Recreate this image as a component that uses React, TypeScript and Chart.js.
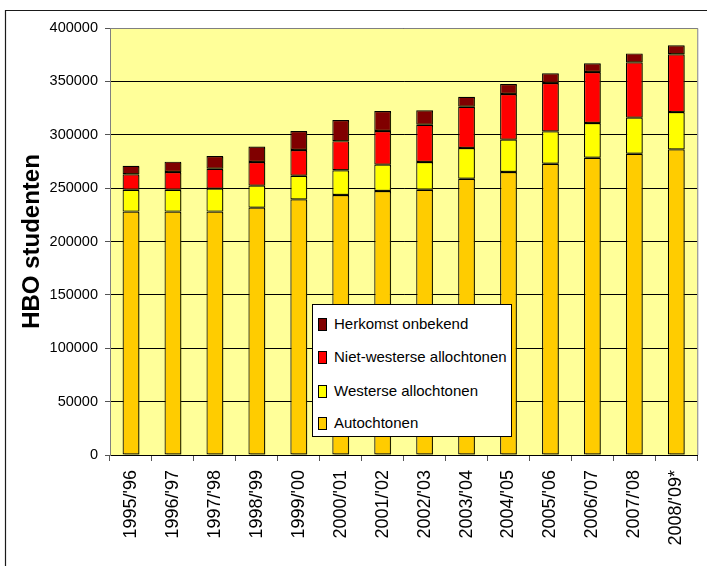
import React, { useEffect, useRef } from "react";
import { Chart, registerables } from "chart.js";

Chart.register(...registerables);

const categories = [
  "1995/'96", "1996/'97", "1997/'98", "1998/'99", "1999/'00", "2000/'01", "2001/'02",
  "2002/'03", "2003/'04", "2004/'05", "2005/'06", "2006/'07", "2007/'08", "2008/'09*",
];
const autochtonen = [228000, 228000, 228000, 231700, 239500, 243600, 247300, 248500, 258800, 265100, 272900, 278500, 282200, 286300];
const westerseAllochtonen = [20500, 20500, 21500, 20600, 22100, 23100, 24700, 26000, 28800, 30300, 30300, 32500, 33800, 34900];
const nietWesterseAllochtonen = [14500, 16600, 18700, 22200, 24100, 27300, 31500, 34900, 38600, 42800, 45300, 47800, 51800, 54200];
const herkomstOnbekend = [8000, 9700, 11900, 14500, 17800, 19800, 18700, 13500, 9400, 9300, 9000, 8100, 8400, 8400];

const seriesNames = ["Autochtonen", "Westerse allochtonen", "Niet-westerse allochtonen", "Herkomst onbekend"];
const seriesColors = ["#FFCC00", "#FFFF00", "#FF0000", "#800000"];
const seriesValues = [autochtonen, westerseAllochtonen, nietWesterseAllochtonen, herkomstOnbekend];

const yMin = 0;
const yMax = 400000;
const yStep = 50000;
const yAxisTitle = "HBO studenten";

const FONT = "'Liberation Sans', Arial, Helvetica, sans-serif";

export default function App() {
  const canvasRef = useRef<HTMLCanvasElement | null>(null);

  useEffect(() => {
    const canvas = canvasRef.current;
    if (!canvas) return;

    const shadowPlugin = {
      id: "barShadow",
      beforeDatasetsDraw(chart: any) {
        const ctx = chart.ctx;
        ctx.save();
        ctx.shadowColor = "rgba(60,60,0,0.55)";
        ctx.shadowOffsetX = 2;
        ctx.shadowOffsetY = 1;
        ctx.shadowBlur = 0;
      },
      afterDatasetsDraw(chart: any) {
        chart.ctx.restore();
      },
    };

    const framePlugin = {
      id: "frame",
      beforeDraw(chart: any) {
        const { ctx, chartArea: a } = chart;
        ctx.save();
        ctx.fillStyle = "#ffffff";
        ctx.fillRect(0, 0, chart.width, chart.height);
        ctx.strokeStyle = "#1a1a1a";
        ctx.lineWidth = 1.2;
        ctx.beginPath();
        ctx.moveTo(5.5, chart.height + 2);
        ctx.lineTo(5.5, 10.5);
        ctx.lineTo(chart.width + 2, 10.5);
        ctx.stroke();
        ctx.fillStyle = "#FFFF99";
        ctx.fillRect(a.left, a.top, a.right - a.left, a.bottom - a.top);
        ctx.restore();
      },
      afterDatasetsDraw(chart: any) {
        const { ctx, chartArea: a } = chart;
        ctx.save();
        ctx.strokeStyle = "#808080";
        ctx.lineWidth = 1;
        ctx.beginPath();
        ctx.moveTo(a.left, a.top + 0.5);
        ctx.lineTo(a.right + 0.5, a.top + 0.5);
        ctx.lineTo(a.right + 0.5, a.bottom);
        ctx.stroke();
        ctx.restore();
      },
    };

    const chart = new Chart(canvas, {
      type: "bar",
      data: {
        labels: categories,
        datasets: seriesNames.map((name, i) => ({
          label: name,
          data: seriesValues[i],
          backgroundColor: seriesColors[i],
          borderColor: "#000000",
          borderWidth: 1.2,
          borderSkipped: false,
          categoryPercentage: 1,
          barPercentage: 0.4,
        })),
      },
      options: {
        responsive: false,
        animation: false,
        layout: { padding: { left: 0, top: 28, right: 3, bottom: 0 } },
        plugins: {
          legend: { display: false },
          tooltip: { enabled: false },
          title: { display: false },
        },
        scales: {
          x: {
            stacked: true,
            afterFit(scale: any) {
              scale.height = 111;
            },
            grid: {
              display: true,
              drawOnChartArea: false,
              drawTicks: true,
              tickLength: 6,
              tickColor: "#555555",
              offset: true,
            },
            border: { display: true, color: "#000000", width: 1 },
            ticks: {
              autoSkip: false,
              maxRotation: 90,
              minRotation: 90,
              padding: 9,
              color: "#000000",
              font: { family: FONT, size: 18 },
            },
          },
          y: {
            stacked: true,
            min: yMin,
            max: yMax,
            afterFit(scale: any) {
              scale.width = 110;
            },
            grid: {
              color: "#000000",
              lineWidth: 1,
              drawTicks: true,
              tickLength: 5,
              tickColor: "#555555",
            },
            border: { display: true, color: "#808080", width: 1 },
            ticks: {
              stepSize: yStep,
              padding: 7,
              color: "#000000",
              font: { family: FONT, size: 14.5 },
              callback: (v: any) => String(v),
            },
            title: {
              display: true,
              text: yAxisTitle,
              color: "#000000",
              font: { family: FONT, size: 24, weight: "bold" },
              padding: { top: 18, bottom: 0 },
            },
          },
        },
      },
      plugins: [shadowPlugin, framePlugin],
    } as any);

    return () => {
      chart.destroy();
    };
  }, []);

  const legendOrder = [3, 2, 1, 0];
  const legendCenters = [323, 356, 390, 422];

  return (
    <div style={{ position: "fixed", left: 0, top: 0, width: 707, height: 566, background: "#fff" }}>
      <canvas ref={canvasRef} width={707} height={566} style={{ display: "block", width: 707, height: 566 }} />
      <div
        style={{
          position: "absolute",
          left: 312,
          top: 304,
          width: 200,
          height: 133,
          border: "1px solid #000",
          background: "#ffffff",
          boxSizing: "border-box",
          fontFamily: FONT,
          fontSize: 15,
          color: "#000",
        }}
      >
        {legendOrder.map((idx, k) => (
          <div
            key={seriesNames[idx]}
            style={{
              position: "absolute",
              left: 5,
              top: legendCenters[k] - 304 - 10,
              height: 20,
              lineHeight: "20px",
              whiteSpace: "nowrap",
              display: "flex",
              alignItems: "center",
            }}
          >
            <span
              style={{
                display: "inline-block",
                width: 7,
                height: 11,
                background: seriesColors[idx],
                border: "1px solid #000",
                marginRight: 7,
              }}
            />
            <span>{seriesNames[idx]}</span>
          </div>
        ))}
      </div>
    </div>
  );
}
